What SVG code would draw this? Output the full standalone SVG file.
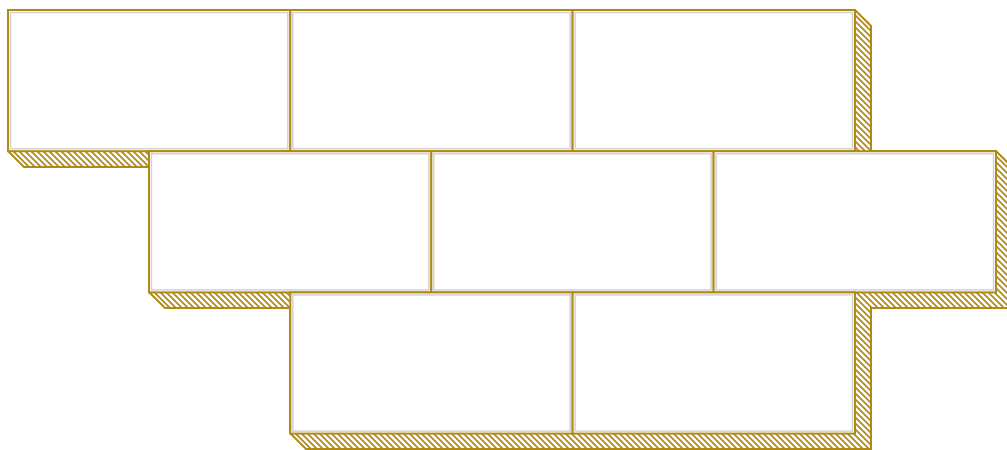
<svg xmlns="http://www.w3.org/2000/svg" width="1007" height="450" viewBox="0 0 1007 450">
  <defs>
    <pattern id="hatch" patternUnits="userSpaceOnUse" width="6" height="6">
      <rect width="6" height="6" fill="#ffffff"/>
      <path d="M-1,-1 L7,7 M5,-1 L7,1 M-1,5 L1,7" stroke="#b08a14" stroke-width="1.7"/>
    </pattern>
    <style>
      .brick { fill: #ffffff; stroke: #b08a14; stroke-width: 2; }
      .inset { fill: none; stroke: #d2d2d2; stroke-width: 1.5; }
      .shadow { fill: url(#hatch); stroke: #b08a14; stroke-width: 2; stroke-linejoin: miter; }
    </style>
  </defs>
  <rect width="1007" height="450" fill="#ffffff"/>
  <g id="extrusion">
    <polygon class="shadow" points="8,10 855,10 871,26 871,151 996,151 1012,167 1012,308 871,308 871,449 306,449 290,433 290,308 165,308 149,292 149,167 24,167 8,151"/>
  </g>
  <g id="connectors"/>
  <g id="brick-1-1"><rect class="brick" x="8" y="10" width="282.3" height="141.2"/><rect class="inset" x="10.5" y="12.5" width="277.3" height="136.2"/></g>
  <g id="brick-1-2"><rect class="brick" x="290.3" y="10" width="282.3" height="141.2"/><rect class="inset" x="292.8" y="12.5" width="277.3" height="136.2"/></g>
  <g id="brick-1-3"><rect class="brick" x="572.6" y="10" width="282.4" height="141.2"/><rect class="inset" x="575.1" y="12.5" width="277.4" height="136.2"/></g>
  <g id="brick-2-1"><rect class="brick" x="149" y="151.2" width="282.3" height="141.2"/><rect class="inset" x="151.5" y="153.7" width="277.3" height="136.2"/></g>
  <g id="brick-2-2"><rect class="brick" x="431.3" y="151.2" width="282.3" height="141.2"/><rect class="inset" x="433.8" y="153.7" width="277.3" height="136.2"/></g>
  <g id="brick-2-3"><rect class="brick" x="713.6" y="151.2" width="282.4" height="141.2"/><rect class="inset" x="716.1" y="153.7" width="277.4" height="136.2"/></g>
  <g id="brick-3-1"><rect class="brick" x="290.3" y="292.4" width="282.3" height="141.2"/><rect class="inset" x="292.8" y="294.9" width="277.3" height="136.2"/></g>
  <g id="brick-3-2"><rect class="brick" x="572.6" y="292.4" width="282.4" height="141.2"/><rect class="inset" x="575.1" y="294.9" width="277.4" height="136.2"/></g>
</svg>
